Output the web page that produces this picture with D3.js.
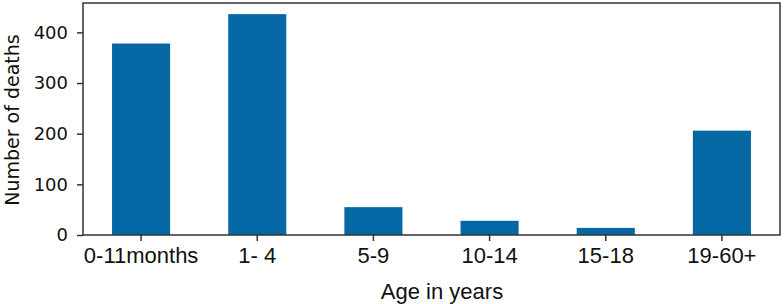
<!DOCTYPE html>
<html>
<head>
<meta charset="utf-8">
<script src="https://cdn.jsdelivr.net/npm/d3@7"></script>
<style>
  body { margin: 0; background: #fff; }
  svg { display: block; }
</style>
</head>
<body>
<div class="container"></div>
<script>
const categories = ['0-11months', '1- 4', '5-9', '10-14', '15-18', '19-60+'],
    deaths = [378, 436, 55, 28, 14, 206],
    yTicks = [0, 100, 200, 300, 400];

const width = 784,
    height = 304,
    margin = {top: 3, right: 4, bottom: 69, left: 83};

const svg = d3.select('.container')
    .append('svg')
    .attr('width', width)
    .attr('height', height);

const xScale = d3.scaleBand()
    .domain(categories)
    .range([margin.left, width - margin.right])
    .paddingInner(0.5)
    .paddingOuter(0.25);

const yScale = d3.scaleLinear()
    .domain([0, 458])
    .range([height - margin.bottom, margin.top]);

// bars
svg.append('g')
    .selectAll('rect')
    .data(deaths)
    .join('rect')
    .attr('x', (d, i) => xScale(categories[i]))
    .attr('y', d => yScale(d))
    .attr('width', xScale.bandwidth())
    .attr('height', d => yScale(0) - yScale(d))
    .attr('fill', '#0567a4');

// frame
svg.append('rect')
    .attr('x', margin.left)
    .attr('y', margin.top)
    .attr('width', width - margin.right - margin.left)
    .attr('height', height - margin.bottom - margin.top)
    .attr('fill', 'none')
    .attr('stroke', '#333')
    .attr('stroke-width', 1.5);

const xAxis = d3.axisBottom(xScale).tickSize(6).tickPadding(6);

const gx = svg.append('g')
    .attr('transform', `translate(0, ${height - margin.bottom})`)
    .call(xAxis);
gx.select('.domain').remove();
gx.selectAll('line').attr('stroke', '#333').attr('stroke-width', 1.5);
gx.selectAll('text')
    .attr('fill', '#111')
    .style('font-family', '"Liberation Sans", Arial, sans-serif')
    .style('font-size', '22px');

const yAxis = d3.axisLeft(yScale).tickValues(yTicks).tickSize(6).tickPadding(9);

const gy = svg.append('g')
    .attr('transform', `translate(${margin.left}, 0)`)
    .call(yAxis);
gy.select('.domain').remove();
gy.selectAll('line').attr('stroke', '#333').attr('stroke-width', 1.5);
gy.selectAll('text')
    .attr('fill', '#111')
    .style('font-family', '"DejaVu Sans", sans-serif')
    .style('font-size', '18px');

// axis titles
svg.append('text')
    .attr('x', 442)
    .attr('y', 299)
    .attr('text-anchor', 'middle')
    .attr('fill', '#111')
    .style('font-family', '"Liberation Sans", Arial, sans-serif')
    .style('font-size', '22px')
    .text('Age in years');

svg.append('text')
    .attr('transform', 'translate(19, 120) rotate(-90)')
    .attr('text-anchor', 'middle')
    .attr('fill', '#111')
    .style('font-family', '"DejaVu Sans", sans-serif')
    .style('font-size', '19px')
    .text('Number of deaths');
</script>
</body>
</html>
